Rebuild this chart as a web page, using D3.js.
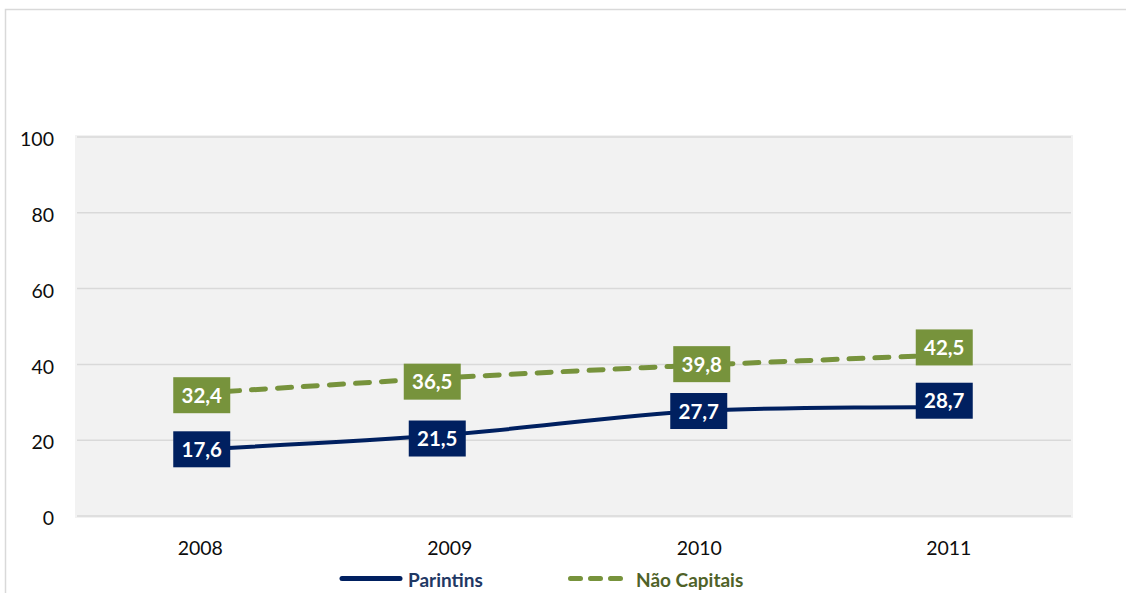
<!DOCTYPE html>
<html>
<head>
<meta charset="utf-8">
<script src="https://cdn.jsdelivr.net/npm/d3@7"></script>
<style>
  html, body { margin: 0; padding: 0; background: #fff; }
  svg { display: block; }
</style>
</head>
<body>
<svg id="chart" width="1126" height="593"></svg>
<script>
// Data
const years = ["2008", "2009", "2010", "2011"];
const parintins = [17.6, 21.5, 27.7, 28.7];
const naoCapitais = [32.4, 36.5, 39.8, 42.5];
const yTicks = [0, 20, 40, 60, 80, 100];
const seriesNames = ["Parintins", "Não Capitais"];

// Layout
const W = 1126, H = 593;
const plot = { left: 75, right: 1073, top: 137, bottom: 516 };
const font = "Lato, 'Open Sans', sans-serif";
// Hand-placed nudges for the value boxes (dx, dy in px), per series and year
const nudgeParintins = [[2, 0], [-12, 4], [0, 0], [-4, -6.5]];
const nudgeNaoCapitais = [[2, 2], [-17, 4], [3, -1], [-4, -7.5]];

const svg = d3.select("#chart");

// Chart frame
svg.append("path")
  .attr("d", `M5.5,${H + 5} L5.5,9.5 L${W + 5},9.5`)
  .attr("fill", "none").attr("stroke", "#D9D9D9").attr("stroke-width", 1.5);

// Plot background
svg.append("rect")
  .attr("x", plot.left).attr("y", plot.top - 2)
  .attr("width", plot.right - plot.left).attr("height", plot.bottom - plot.top + 4)
  .attr("fill", "#F2F2F2");

const x = d3.scalePoint().domain(years).range([plot.left, plot.right]).padding(0.5);
const y = d3.scaleLinear().domain([0, 100]).range([plot.bottom, plot.top]);

// Gridlines
svg.append("g").selectAll("line").data(yTicks).join("line")
  .attr("x1", plot.left + 2).attr("x2", plot.right - 2)
  .attr("y1", d => y(d)).attr("y2", d => y(d))
  .attr("stroke", "#D9D9D9").attr("stroke-width", 1.5);

// Y axis labels
const yAxis = svg.append("g")
  .attr("transform", `translate(${plot.left - 21},2.5)`)
  .call(d3.axisLeft(y).tickValues(yTicks).tickSize(0).tickPadding(0));
yAxis.select(".domain").remove();
yAxis.selectAll("text")
  .attr("font-family", font).attr("font-size", 19.5).attr("fill", "#0D0D0D");

// X axis labels
const xAxis = svg.append("g")
  .attr("transform", `translate(0,${plot.bottom + 39})`)
  .call(d3.axisBottom(x).tickSize(0).tickPadding(0));
xAxis.select(".domain").remove();
xAxis.selectAll("text")
  .attr("dy", 0).attr("y", 0)
  .attr("font-family", font).attr("font-size", 19.5).attr("fill", "#0D0D0D");

const line = d3.line()
  .x((d, i) => x(years[i]))
  .y(d => y(d))
  .curve(d3.curveCatmullRom.alpha(0.5));

const series = [
  { name: seriesNames[0], values: parintins, nudge: nudgeParintins, color: "#002060", dash: null, width: 4, text: "#1F3864" },
  { name: seriesNames[1], values: naoCapitais, nudge: nudgeNaoCapitais, color: "#77933C", dash: "14,12", width: 5, text: "#4F6228" }
];

series.forEach(s => {
  svg.append("path")
    .attr("d", line(s.values))
    .attr("fill", "none")
    .attr("stroke", s.color)
    .attr("stroke-width", s.width)
    .attr("stroke-linecap", s.dash ? "round" : "butt")
    .attr("stroke-dasharray", s.dash);
});

// Data labels
series.forEach(s => {
  const g = svg.append("g");
  s.values.forEach((v, i) => {
    const cx = x(years[i]) + s.nudge[i][0], cy = y(v) + s.nudge[i][1];
    g.append("rect")
      .attr("x", cx - 28.5).attr("y", cy - 18)
      .attr("width", 57).attr("height", 36)
      .attr("fill", s.color);
    g.append("text")
      .attr("x", cx).attr("y", cy + 7.5)
      .attr("text-anchor", "middle")
      .attr("font-family", font).attr("font-weight", "bold").attr("font-size", 20.5)
      .attr("fill", "#fff")
      .text(d3.format(".1f")(v).replace(".", ","));
  });
});

// Legend
const legendY = 578.5;
const legend = [
  { s: series[0], x1: 342, x2: 400, tx: 408, dash: null },
  { s: series[1], x1: 570.5, x2: 621.5, tx: 636, dash: "10,10" }
];
legend.forEach(l => {
  svg.append("line")
    .attr("x1", l.x1).attr("x2", l.x2).attr("y1", legendY).attr("y2", legendY)
    .attr("stroke", l.s.color).attr("stroke-width", 5)
    .attr("stroke-linecap", "round")
    .attr("stroke-dasharray", l.dash);
  svg.append("text")
    .attr("x", l.tx).attr("y", 587)
    .attr("font-family", font).attr("font-weight", "bold").attr("font-size", 19)
    .attr("fill", l.s.text)
    .text(l.s.name);
});
</script>
</body>
</html>
